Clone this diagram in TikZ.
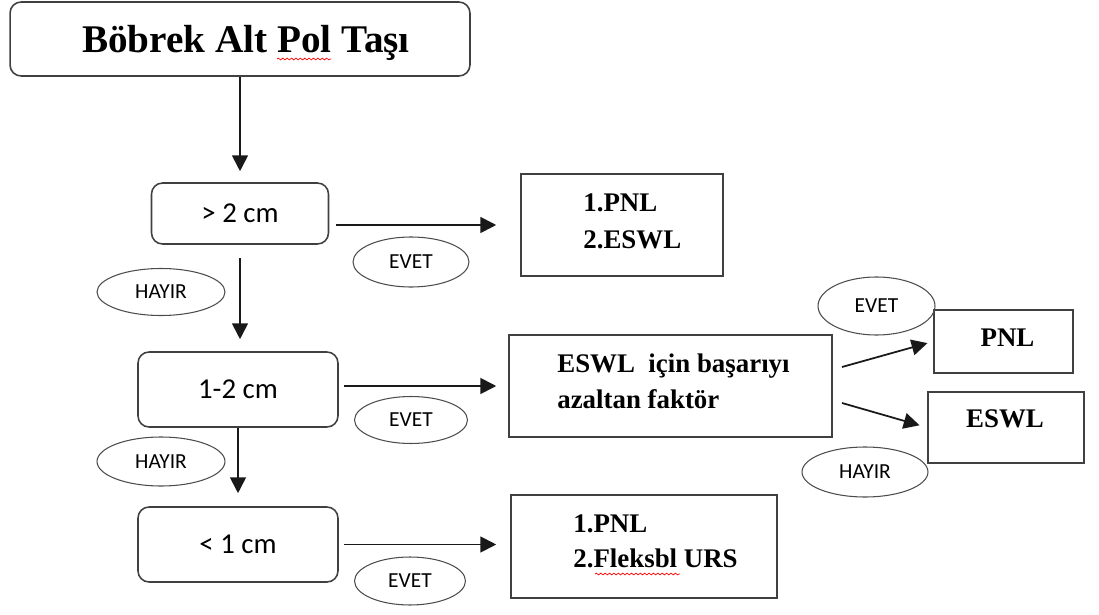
\documentclass[tikz,border=0pt]{standalone}
\usepackage{fontspec}
\setmainfont{Liberation Serif}
\newfontfamily\calfont{Carlito}
\usetikzlibrary{arrows.meta,shapes.geometric,decorations.pathmorphing}
\begin{document}
\begin{tikzpicture}[x=0.02cm,y=-0.02cm,
  box/.style={draw=black!75, line width=0.9pt, inner sep=0pt},
  rbox/.style={box, rounded corners=0.22cm},
  oval/.style={draw=black!70, line width=0.6pt, ellipse, inner sep=0pt, font=\calfont\fontsize{12.2}{14}\selectfont},
  arr/.style={-{Triangle[length=9pt,width=9pt]}, line width=1pt, black!90},
  bt/.style={font=\bfseries\fontsize{15.3}{18}\selectfont, inner sep=0pt},
  st/.style={font=\calfont\fontsize{16.4}{19}\selectfont},
  wavy/.style={red, line width=0.4pt, decorate, decoration={snake, amplitude=0.5pt, segment length=2.5pt}}
]
\useasboundingbox (0,0) rectangle (1099,615);

% boxes
\node[rbox, minimum width=9.2cm, minimum height=1.48cm] (title) at (240,39) {};
\node[inner sep=0pt, anchor=base, font=\bfseries\fontsize{22.3}{26}\selectfont] (titlet) at (246,53) {Böbrek Alt Pol Taşı};
\node[rbox, minimum width=3.54cm, minimum height=1.22cm, st] (b1) at (240,213.5) {> 2 cm};
\node[rbox, minimum width=4.0cm, minimum height=1.5cm, st] (b2) at (238,389.5) {1-2 cm};
\node[rbox, minimum width=4.0cm, minimum height=1.5cm, st] (b3) at (238,544.5) {< 1 cm};

\node[box, minimum width=4.04cm, minimum height=2.04cm] (r1) at (622,225) {};
\node[box, minimum width=6.46cm, minimum height=2.04cm] (r2) at (670.5,386) {};
\node[box, minimum width=5.32cm, minimum height=2.06cm] (r3) at (644,546.5) {};
\node[box, minimum width=2.78cm, minimum height=1.26cm] (pnl) at (1003.5,341.5) {};
\node[box, minimum width=3.12cm, minimum height=1.42cm] (eswl) at (1006,427.5) {};

% box texts
\node[bt, anchor=base west] (r1a) at (583,212) {1.PNL};
\node[bt, anchor=base west] (r1b) at (583,248) {2.ESWL};
\node[bt, anchor=base west] (r2a) at (557,372) {ESWL\ \ için başarıyı};
\node[bt, anchor=base west] (r2b) at (557,408) {azaltan faktör};
\node[bt, anchor=base west] (r3a) at (573,532) {1.PNL};
\node[bt, anchor=base west] (r3b) at (573,567) {2.Fleksbl URS};
\node[bt, anchor=base] (pnlt) at (1007.5,346) {PNL};
\node[bt, anchor=base] (eswlt) at (1005,427) {ESWL};

% spell-check marks
\draw[wavy] (277,59) -- (331,59);
\draw[wavy] (595,574) -- (680,574);

% ovals
\node[oval, minimum width=2.32cm, minimum height=1.0cm] (e1) at (411,262) {EVET};
\node[oval, minimum width=2.26cm, minimum height=0.94cm] (e2) at (411,420) {EVET};
\node[oval, minimum width=2.22cm, minimum height=0.96cm] (e3) at (410,581) {EVET};
\node[oval, minimum width=2.34cm, minimum height=1.16cm] (e4) at (876.5,306) {EVET};
\node[oval, minimum width=2.56cm, minimum height=0.94cm] (h1) at (161,292) {HAYIR};
\node[oval, minimum width=2.56cm, minimum height=0.98cm] (h2) at (161,461.5) {HAYIR};
\node[oval, minimum width=2.52cm, minimum height=1.0cm] (h3) at (865,472) {HAYIR};

% connectors
\draw[arr, shorten >=0.22cm] (title.south -| b1.north) -- (b1.north);
\draw[arr, shorten <=0.27cm, shorten >=0.24cm] (b1.south) -- (b1.south |- b2.north);
\draw[arr, shorten >=0.26cm] (b2.south) -- (b2.south |- b3.north);
\draw[arr, shorten <=0.13cm, shorten >=0.48cm] (b1.east |- r1.west) -- (r1.west);
\draw[arr, shorten <=0.1cm, shorten >=0.24cm] (b2.east |- r2.west) -- (r2.west);
\draw[arr, shorten <=0.1cm, shorten >=0.28cm] (b3.east) -- (b3.east -| r3.west);
\coordinate (s1) at (842,367);
\coordinate (s2) at (842,403);
\draw[arr, shorten >=0.12cm] (s1) -- (pnl.west);
\draw[arr, shorten >=0.16cm] (s2) -- (eswl.west);
\end{tikzpicture}
\end{document}
